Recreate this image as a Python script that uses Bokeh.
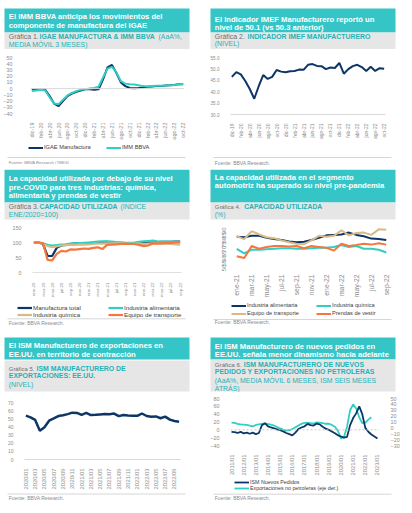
import math
from bokeh.plotting import figure
from bokeh.layouts import column, row
from bokeh.models import (Range1d, FixedTicker, Span, Legend, LegendItem,
                          LinearAxis, NumeralTickFormatter)
from bokeh.embed import file_html
from bokeh.resources import INLINE
from bokeh.core.properties import value

FONT = "Liberation Sans"
TEAL_BOX = "#35c5c6"
GRAY_BOX = "#e6e6e6"
TEAL_TXT = "#22b3b6"
GRAY_TXT = "#6f6f6f"
TICK = "#8c8c8c"
NAVY = "#0d3566"
AQUA = "#2fcfc1"
TAN = "#d8ba86"
ORANGE = "#f5773f"
SRC = "#8a8a8a"
RULE = "#d6d6d6"

# ---------------- data ----------------
p1_months = ["dic-19", "ene-20", "feb-20", "mar-20", "abr-20", "may-20", "jun-20", "jul-20",
             "ago-20", "sep-20", "oct-20", "nov-20", "dic-20", "ene-21", "feb-21", "mar-21",
             "abr-21", "may-21", "jun-21", "jul-21", "ago-21", "sep-21", "oct-21", "nov-21",
             "dic-21", "ene-22", "feb-22", "mar-22", "abr-22", "may-22", "jun-22", "jul-22",
             "ago-22", "sep-22", "oct-22"]
igae = [-2, -1.5, -1, -2, -12, -24, -28, -20, -12, -8, -5, -3, -1, -1, -2, -1,
        15, 34, 38, 25, 10, 4, 1, 0.5, 1, 2, 3, 3.5, 4, 4, 5, 5.5, 6, 7, 7]
imm = [-4, -3, -2, -3, -14, -24, -25, -18, -11, -7, -4, -2, -1, 0, 1, 3,
       18, 32, 35, 26, 12, 8, 7, 6.5, 5.5, 4, 3.5, 4, 4.5, 4.5, 5, 5.5, 6, 7, 7.5]
imef = [46.5, 48.6, 47.6, 44.7, 41.2, 36.9, 42.4, 47.3, 45.6, 46.5, 49.5, 48.8, 48.5,
        49.0, 49.1, 49.7, 49.6, 51.8, 52.1, 51.3, 51.2, 49.9, 50.6, 50.4, 52.6, 47.9,
        49.9, 51.2, 51.8, 50.8, 49.1, 50.9, 49.1, 50.3, 50.1]

p3_months = ["ene-20", "feb-20", "mar-20", "abr-20", "may-20", "jun-20", "jul-20", "ago-20",
             "sep-20", "oct-20", "nov-20", "dic-20", "ene-21", "feb-21", "mar-21", "abr-21",
             "may-21", "jun-21", "jul-21", "ago-21", "sep-21", "oct-21", "nov-21", "dic-21",
             "ene-22", "feb-22", "mar-22", "abr-22", "may-22", "jun-22", "jul-22", "ago-22",
             "sep-22"]
manuf_total = [100, 100, 95, 55, 55, 82, 90, 92, 95, 97, 97, 98, 98, 99, 100, 101, 102,
               100, 99, 99, 98, 97, 97, 98, 99, 100, 101, 101, 102, 102, 102, 103, 103]
ind_alim3 = [100, 100, 97, 92, 90, 91, 93, 94, 96, 97, 98, 99, 100, 101, 103, 104, 104,
             103, 101, 100, 99, 99, 100, 102, 104, 105, 106, 104, 103, 103, 103, 102, 102]
ind_quim3 = [100, 100, 96, 88, 85, 87, 90, 91, 92, 92, 93, 93, 94, 95, 96, 96, 97, 97,
             97, 97, 96, 96, 96, 96, 95, 96, 97, 97, 96, 96, 95, 94, 93]
equipo_tr3 = [100, 100, 98, 42, 40, 62, 72, 70, 77, 76, 78, 80, 79, 82, 84, 78, 92, 93,
              94, 95, 96, 95, 95, 92, 88, 90, 97, 96, 97, 98, 99, 100, 100]

p4_months = ["ene-21", "feb-21", "mar-21", "abr-21", "may-21", "jun-21", "jul-21", "ago-21",
             "sep-21", "oct-21", "nov-21", "dic-21", "ene-22", "feb-22", "mar-22", "abr-22",
             "may-22", "jun-22", "jul-22", "ago-22", "sep-22"]
ind_alim4 = [80, 79.5, 81, 81, 79, 77.5, 76.5, 75, 74, 74.5, 76.5, 79, 81.5, 82, 82.5,
             84.5, 82, 80.5, 78, 77.5, 76.5]
ind_quim4 = [67, 62, 66, 66, 66.5, 67, 67.5, 67.5, 67, 67, 67.5, 68, 68, 69, 71, 69, 70,
             67, 67, 66, 63]
equipo_tr4 = [80.5, 77.5, 86, 82.5, 79.5, 78.5, 76, 74, 72.5, 72, 76, 81, 80, 81, 87,
              81.5, 84, 84.5, 82, 88, 87.5]
prendas4 = [59, 57, 70, 67, 69, 70, 70, 69.5, 70, 67.5, 70, 69, 68, 65, 72.5, 70, 71,
            72.5, 71.5, 73, 71.5]

p5_months = ["2020/01", "2020/02", "2020/03", "2020/04", "2020/05", "2020/06", "2020/07",
             "2020/08", "2020/09", "2020/10", "2020/11", "2020/12", "2021/01", "2021/02",
             "2021/03", "2021/04", "2021/05", "2021/06", "2021/07", "2021/08", "2021/09",
             "2021/10", "2021/11", "2021/12", "2022/01", "2022/02", "2022/03", "2022/04",
             "2022/05", "2022/06", "2022/07", "2022/08", "2022/09", "2022/10"]
ism_export = [53.8, 51.8, 48.6, 35.3, 39.5, 47.6, 50.4, 53.3, 54.3, 55.7, 57.5, 57.2,
              54.9, 57.2, 54.5, 54.9, 55.4, 55.9, 55.7, 56.4, 53.3, 54.6, 53.9, 53.6,
              53.6, 56.5, 53.4, 52.4, 52.9, 50.7, 52.6, 49.0, 47.2, 46.5]

# chart 6: months counted from 2011/01, one reading every 3 months
p6_year_labels = ["2011/01", "2012/01", "2013/01", "2014/01", "2015/01", "2016/01",
                  "2017/01", "2018/01", "2019/01", "2020/01", "2021/01", "2022/01", "2023/01"]
p6_step = 3
ism_pedidos = [-5, -6, -8, -5, -9, -7, -10, -7, -11, -8, 12, 17, 9, 6, 4, 1, -1, -4,
               -8, -11, -14, -7, 2, 6, 9, 15, 12, 11, 16, 14, 8, 3, 0, -4, -9, -14, -17,
               -20, -18, 12, 30, 42, 60, 40, 5, -5, -12, -17, -22]
export_nopet = [9, 8.5, 7, 6, 5.5, 5, 4, 2.5, 5, 6, 7, 7, 6.5, 5.5, 4, 1.5, -1, -3,
                -4.5, -4, -2, 1, 4, 7, 8.5, 9, 8, 7.5, 9.5, 9, 8, 7, 7, 5, 2, -5, -18,
                -15, 2, 30, 40, 33, 18, 8, 9, 14, 18]

NAN = float("nan")


# ---------------- helpers ----------------
def canvas(w, h):
    p = figure(width=w, height=h, x_range=Range1d(0, w), y_range=Range1d(h, 0),
               output_backend="svg", toolbar_location=None, min_border=0,
               x_axis_location=None, y_axis_location=None, frame_align=False)
    p.grid.visible = False
    p.outline_line_color = None
    p.background_fill_color = "white"
    p.border_fill_color = "white"
    return p


def txt(p, x, y, s, size, color, style="normal"):
    p.text(x=[x], y=[y], text=[s], text_font=value(FONT), text_font_size=value(size),
           text_font_style=value(style), text_color=color, text_baseline="middle",
           text_align="left")


def header(h, teal, gray, head_lines, head_y, sub_lines, sub_y):
    p = canvas(W, h)
    p.quad(left=[4], right=[189], top=[teal[0]], bottom=[teal[1]],
           fill_color=TEAL_BOX, line_color=None)
    p.quad(left=[4], right=[189], top=[gray[0]], bottom=[gray[1]],
           fill_color=GRAY_BOX, line_color=None)
    for s, y in zip(head_lines, head_y):
        txt(p, 8.3, y, s, "7.65px", "white", "bold")
    for segs, y in zip(sub_lines, sub_y):
        for (s, x, size, color, style) in segs:
            txt(p, x, y, s, size, color, style)
    return p


def footer(h, ly, ty, s, size, legends=()):
    """Source note; optional legend blocks (series name, colour, width) drawn by Bokeh Legend."""
    p = canvas(W, h)
    p.segment(x0=[7], y0=[ly], x1=[185], y1=[ly], line_color=RULE, line_width=1)
    txt(p, 8.3, ty, s, size, SRC)
    for (entries, lx, top, fs, row_h, gap) in legends:
        items = []
        for label, color, lw in entries:
            r = p.line(x=[NAN], y=[NAN], line_color=color, line_width=lw)
            items.append(LegendItem(label=label, renderers=[r]))
        n = len(entries)
        bottom = top + n * row_h + (n - 1) * gap
        lg = Legend(items=items, location=(lx, h - bottom), orientation="vertical",
                    label_text_font=FONT, label_text_font_size=fs,
                    label_text_color="#404040", glyph_width=15, glyph_height=row_h,
                    label_height=row_h, label_standoff=1, spacing=gap, padding=0,
                    margin=0, border_line_color=None, background_fill_alpha=0)
        p.add_layout(lg)
    return p


def chart(h, xr, yr, mb, xticks, xlabels, yticks, xfs, yfs, xstand, ystand):
    p = figure(width=W, height=h, x_range=Range1d(*xr), y_range=Range1d(*yr),
               output_backend="svg", toolbar_location=None, frame_align=False,
               min_border_left=mb[0], min_border_right=mb[1],
               min_border_top=mb[2], min_border_bottom=mb[3])
    p.outline_line_color = None
    p.grid.visible = False
    p.background_fill_color = "white"
    p.border_fill_color = "white"
    xa = p.xaxis[0]
    ya = p.yaxis[0]
    xa.ticker = FixedTicker(ticks=xticks)
    xa.major_label_overrides = {t: l for t, l in zip(xticks, xlabels)}
    xa.major_label_orientation = math.pi / 2
    ya.ticker = FixedTicker(ticks=yticks)
    for ax, fs, st in ((xa, xfs, xstand), (ya, yfs, ystand)):
        ax.major_label_text_font = FONT
        ax.major_label_text_font_size = fs
        ax.major_label_text_color = TICK
        ax.major_tick_line_color = None
        ax.minor_tick_line_color = None
        ax.axis_line_color = None
        ax.major_label_standoff = st
    return p


def every_other(labels):
    idx = list(range(0, len(labels), 2))
    return idx, [labels[i] for i in idx]


W = 206

# ---------------- chart 1 ----------------
h1 = header(49, (8, 32), (32, 49),
            ["El IMM BBVA anticipa los movimientos del", "componente de manufactura del IGAE"],
            [16, 25],
            [[("Gráfica 1.", 8.3, "6.9px", GRAY_TXT, "normal"),
              ("IGAE MANUFACTURA & IMM BBVA", 39, "6.9px", TEAL_TXT, "bold"),
              ("(AaA%,", 158, "6.9px", TEAL_TXT, "normal")],
             [("MEDIA MÓVIL 3 MESES)", 8.3, "6.9px", TEAL_TXT, "normal")]],
            [36.3, 44])
t1, l1 = every_other(p1_months)
x1 = list(range(len(p1_months)))
c1 = chart(93, (-0.3, 34.3), (-40, 50), (27, 22, 8, 20), t1, l1,
           list(range(-40, 51, 10)), "5.5px", "5.4px", 3, 12)
c1.add_layout(Span(location=0, dimension="width", line_color="#d9d9d9", line_width=1))
c1.line(x1, igae, line_color=NAVY, line_width=2)
c1.line(x1, imm, line_color=AQUA, line_width=2)
f1 = footer(27, 15, 20.3, "Fuente: BBVA Research / INEGI", "4.2px",
            [([("IGAE Manufactura", NAVY, 2)], 28, 1.5, "5.7px", 7, 0),
             ([("IMM BBVA", AQUA, 2)], 106, 1.5, "5.7px", 7, 0)])

# ---------------- chart 2 ----------------
h2 = header(49, (8, 32), (32, 49),
            ["El Indicador IMEF Manufacturero reportó un", "nivel de 50.1 (vs 50.3 anterior)"],
            [19.3, 27.3],
            [[("Gráfica 2.", 8.3, "6.9px", GRAY_TXT, "normal"),
              ("INDICADOR IMEF MANUFACTURERO", 41, "6.9px", TEAL_TXT, "bold")],
             [("(NIVEL)", 8.3, "6.9px", TEAL_TXT, "normal")]],
            [35.7, 43.3])
t2, l2 = every_other(p1_months)
c2 = chart(93, (-0.3, 34.3), (30, 55), (24, 27, 8, 19), t2, l2,
           list(range(30, 56, 5)), "5px", "4.6px", 3, 5)
c2.yaxis[0].formatter = NumeralTickFormatter(format="0.0")
c2.xaxis[0].axis_line_color = "#d9d9d9"
c2.line(x1, imef, line_color=NAVY, line_width=2)
f2 = footer(27, 15, 20.3, "Fuente: BBVA Research.", "5px")

# ---------------- chart 3 ----------------
h3 = header(51, (0, 33), (33, 50),
            ["La capacidad utilizada por debajo de su nivel",
             "pre-COVID para tres industrias: química,", "alimentaria y prendas de vestir"],
            [8.7, 17.7, 26.3],
            [[("Gráfica 3.", 8.3, "6.9px", GRAY_TXT, "normal"),
              ("CAPACIDAD UTILIZADA", 39, "6.8px", TEAL_TXT, "bold"),
              ("(INDICE", 120, "6.9px", TEAL_TXT, "normal")],
             [("ENE/2020=100)", 8.3, "6.9px", TEAL_TXT, "normal")]],
            [37, 44.7])
t3, l3 = every_other(p3_months)
x3 = list(range(len(p3_months)))
c3 = chart(80, (-0.3, 32.3), (0, 150), (32, 25, 7, 21), t3, l3,
           [0, 50, 100, 150], "4.4px", "5.4px", 4, 5)
c3.xaxis[0].axis_line_color = "#e0e0e0"
c3.line(x3, manuf_total, line_color=NAVY, line_width=2.2)
c3.line(x3, ind_alim3, line_color=AQUA, line_width=2.2)
c3.line(x3, ind_quim3, line_color=TAN, line_width=2.2)
c3.line(x3, equipo_tr3, line_color=ORANGE, line_width=2.2)
f3 = footer(36, 18.3, 22, "Fuente: BBVA Research.", "5px",
            [([("Manufactura total", NAVY, 2.2), ("Industria química", TAN, 2.2)],
              17, 3.5, "6.2px", 7, 0),
             ([("Industria alimentaria", AQUA, 2.2), ("Equipo de transporte", ORANGE, 2.2)],
              108, 3.5, "6.2px", 7, 0)])

# ---------------- chart 4 ----------------
h4 = header(51, (0, 33), (33, 50),
            ["La capacidad utilizada en el segmento",
             "automotriz ha superado su nivel pre-pandemia"],
            [7.7, 16],
            [[("Gráfica 4.", 8.3, "5.9px", GRAY_TXT, "normal"),
              ("CAPACIDAD UTILIZADA", 37.7, "6.8px", TEAL_TXT, "bold")],
             [("(%)", 8.3, "6.9px", TEAL_TXT, "normal")]],
            [37, 45.3])
t4, l4 = every_other(p4_months)
x4 = list(range(len(p4_months)))
c4 = chart(80, (-0.3, 20.3), (50, 90), (28, 24, 7, 28), t4, l4,
           list(range(50, 91, 5)), "6.8px", "6px", 4, 5)
c4.yaxis[0].major_label_orientation = math.pi / 2
c4.line(x4, ind_alim4, line_color=NAVY, line_width=2)
c4.line(x4, ind_quim4, line_color=AQUA, line_width=2)
c4.line(x4, equipo_tr4, line_color=TAN, line_width=2)
c4.line(x4, prendas4, line_color=ORANGE, line_width=2)
f4 = footer(36, 19, 21.7, "Fuente: BBVA Research.", "5px",
            [([("Industria alimentaria", NAVY, 2), ("Equipo de transporte", TAN, 2)],
              25, 1.5, "5.6px", 7, 1),
             ([("Industria química", AQUA, 2), ("Prendas de vestir", ORANGE, 2)],
              110, 1.5, "5.6px", 7, 1)])

# ---------------- chart 5 ----------------
h5 = header(56, (1, 23), (24, 55),
            ["El ISM Manufacturero de exportaciones en",
             "EE.UU. en territorio de contracción"],
            [9.3, 18.3],
            [[("Gráfica 5.", 8.3, "5.9px", GRAY_TXT, "normal"),
              ("ISM MANUFACTURERO DE", 36, "6.9px", TEAL_TXT, "bold")],
             [("EXPORTACIONES: EE.UU.", 8.3, "6.9px", TEAL_TXT, "bold")],
             [("(NIVEL)", 8.3, "6.9px", TEAL_TXT, "normal")]],
            [32, 39.3, 47.7])
t5, l5 = every_other(p5_months)
x5 = list(range(len(p5_months)))
c5 = chart(100, (-0.3, 33.3), (0, 70), (24, 26, 10, 33), t5, l5,
           list(range(0, 71, 10)), "5.8px", "4.9px", 3, 5)
c5.xaxis[0].axis_line_color = "#d9d9d9"
c5.line(x5, ism_export, line_color=NAVY, line_width=2.5)
f5 = footer(21, 1.5, 5, "Fuente: BBVA Research.", "5px")

# ---------------- chart 6 ----------------
h6 = header(56, (1, 23), (23, 55),
            ["El ISM Manufacturero de nuevos pedidos en",
             "EE.UU. señala menor dinamismo hacia adelante"],
            [10, 18.3],
            [[("Gráfica 6.", 8.3, "6.2px", GRAY_TXT, "normal"),
              ("ISM MANUFACTURERO DE NUEVOS", 37.3, "6.9px", TEAL_TXT, "bold")],
             [("PEDIDOS Y EXPORTACIONES NO PETROLERAS", 8.3, "6.9px", TEAL_TXT, "bold")],
             [("(AaA%, MEDIA MÓVIL 6 MESES, ISM SEIS MESES", 8.3, "6.9px", TEAL_TXT, "normal")],
             [("ATRÁS)", 8.3, "6.9px", TEAL_TXT, "normal")]],
            [27.7, 35.3, 43.7, 52])
t6 = [12 * i for i in range(len(p6_year_labels))]
c6 = chart(86, (-1, 146), (-40, 80), (24, 33, 6, 26), t6, p6_year_labels,
           list(range(-40, 81, 20)), "5.8px", "5.4px", 3, 5)
c6.extra_y_ranges = {"right": Range1d(-30, 50)}
ax_r = LinearAxis(y_range_name="right", ticker=FixedTicker(ticks=list(range(-30, 51, 10))))
ax_r.major_label_text_font = FONT
ax_r.major_label_text_font_size = "5.4px"
ax_r.major_label_text_color = TICK
ax_r.major_tick_line_color = None
ax_r.minor_tick_line_color = None
ax_r.axis_line_color = None
ax_r.major_label_standoff = 5
c6.add_layout(ax_r, "right")
c6.add_layout(Span(location=0, dimension="width", line_color="#c8c8c8",
                   line_width=1, line_dash="2 2"))
x6a = [p6_step * i for i in range(len(ism_pedidos))]
x6b = [p6_step * i for i in range(len(export_nopet))]
c6.line(x6b, export_nopet, line_color=AQUA, line_width=1.8, y_range_name="right")
c6.line(x6a, ism_pedidos, line_color=NAVY, line_width=1.8)
f6 = footer(35, 15.7, 19, "Fuente: BBVA Research.", "5px",
            [([("ISM Nuevos Pedidos", NAVY, 1.8),
               ("Exportaciones no petroleras (eje der.)", AQUA, 1.8)],
              28, 1, "5.3px", 6, 0)])

left = column(h1, c1, f1, h3, c3, f3, h5, c5, f5, spacing=0)
right = column(h2, c2, f2, h4, c4, f4, h6, c6, f6, spacing=0)
page = row(left, right, spacing=0)

open("out.html", "w").write(file_html(page, INLINE))
